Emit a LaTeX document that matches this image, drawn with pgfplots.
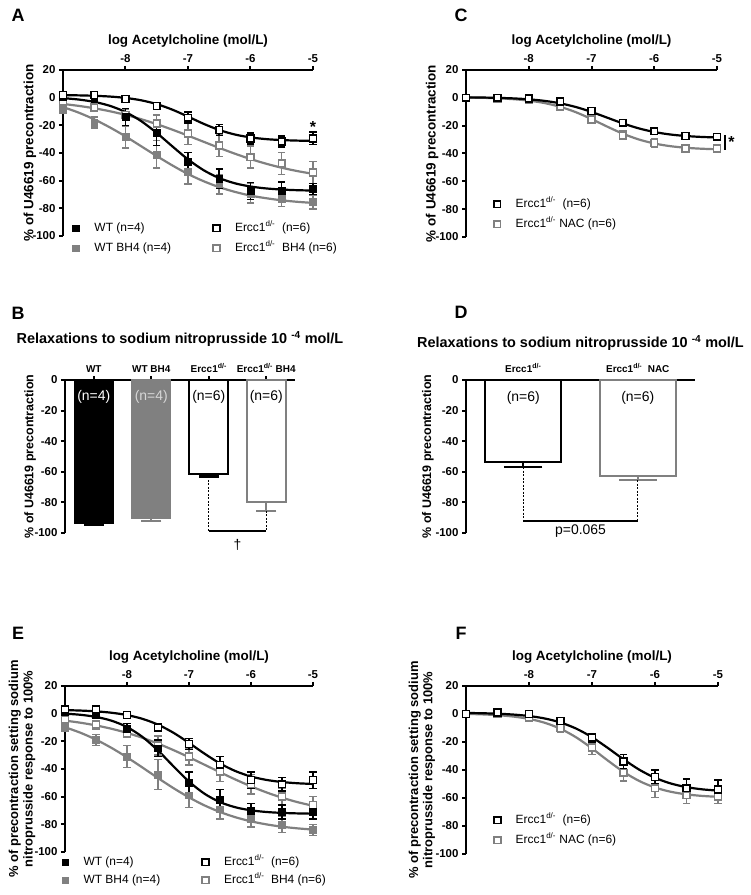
\documentclass[border=0pt]{standalone}
\usepackage{fontspec}
\setmainfont{Liberation Sans}
\usepackage{pgfplots}
\usepackage{pgfplotstable}
\pgfplotsset{compat=1.18}
\definecolor{pg}{RGB}{128,128,128}
\definecolor{lg}{RGB}{215,215,215}

% fitted curves, x = -9 ... -5 step 0.25
\pgfplotstableread{
x wt bh ko kobh
-9 -0.34 -6.8 1.82 -4.56
-8.75 -1.35 -10.8 1.65 -5.94
-8.5 -3.07 -15.7 1.35 -7.68
-8.25 -5.91 -21.5 0.80 -9.83
-8 -10.39 -28.0 -0.19 -12.45
-7.75 -16.94 -35.1 -1.90 -15.56
-7.5 -25.5 -42.2 -4.66 -19.15
-7.25 -35.22 -49.0 -8.68 -23.14
-7 -44.63 -55.2 -13.69 -27.45
-6.75 -52.44 -60.4 -18.91 -31.89
-6.5 -58.13 -64.7 -23.38 -36.30
-6.25 -61.9 -68.1 -26.64 -40.50
-6 -64.23 -70.8 -28.73 -44.35
-5.75 -65.62 -72.7 -29.97 -47.75
-5.5 -66.43 -74.2 -30.67 -50.66
-5.25 -66.9 -75.3 -31.05 -53.09
-5 -67.16 -76.1 -31.26 -55.07
}\curveA
\pgfplotstableread{
x wt wte bh bhe ko koe kobh kobhe
-9 0.7 1.5 -8.2 3 1.9 1 -2.4 2
-8.5 -1 2 -18 4 1.9 1 -7 2.5
-8 -14 6 -28.5 8 -1 1 -12.6 4
-7.5 -25.5 9 -41 10 -6 1.5 -18.6 6
-7 -46.5 7 -53.5 9 -14.5 4 -26 8
-6.5 -58.5 7 -62.5 7 -23.4 4 -34.5 8
-6 -67.5 6 -69.2 7 -29.5 4 -43 8
-5.5 -67 6 -72.8 6 -31.8 4 -47.5 8
-5 -66 4 -75.5 5 -29.5 4.5 -54 8
}\ptA
\pgfplotstableread{
x ko nac
-9 0.33 0.23
-8.75 0.21 0.03
-8.5 -0.02 -0.33
-8.25 -0.40 -0.96
-8 -1.07 -2.01
-7.75 -2.18 -3.75
-7.5 -3.95 -6.45
-7.25 -6.59 -10.32
-7 -10.12 -15.25
-6.75 -14.25 -20.68
-6.5 -18.38 -25.77
-6.25 -21.91 -29.87
-6 -24.55 -32.80
-5.75 -26.32 -34.70
-5.5 -27.43 -35.87
-5.25 -28.10 -36.57
-5 -28.48 -36.97
}\curveC
\pgfplotstableread{
x ko koe nac nace
-9 0 1 0 1
-8.5 0 1 -0.5 1
-8 -0.5 1 -1.5 1
-7.5 -2.5 1 -6.5 1.5
-7 -9.5 2 -15.5 2
-6.5 -18 2.5 -27 3
-6 -24 2.5 -32.5 3
-5.5 -27.5 2 -36.5 2.5
-5 -28 2.5 -36.5 2.5
}\ptC
\pgfplotstableread{
x wt bh ko kobh
-9 0.02 -9.80 2.57 -5.02
-8.75 -0.82 -13.80 2.24 -6.55
-8.5 -2.36 -18.77 1.66 -8.50
-8.25 -5.08 -24.74 0.67 -10.92
-8 -9.67 -31.56 -1.01 -13.90
-7.75 -16.82 -38.96 -3.75 -17.47
-7.5 -26.64 -46.54 -7.94 -21.64
-7.25 -38.07 -53.85 -13.83 -26.36
-7 -49.08 -60.52 -21.13 -31.50
-6.75 -57.88 -66.31 -28.91 -36.91
-6.5 -63.94 -71.08 -35.98 -42.35
-6.25 -67.69 -74.89 -41.53 -47.63
-6 -69.87 -77.83 -45.41 -52.53
-5.75 -71.08 -80.05 -47.90 -56.93
-5.5 -71.74 -81.71 -49.41 -60.74
-5.25 -72.10 -82.91 -50.31 -63.95
-5 -72.29 -83.79 -50.82 -66.59
}\curveE
\pgfplotstableread{
x wt wte bh bhe ko koe kobh kobhe
-9 1.5 1.5 -10 3 3 1 -4 3
-8.5 -0.5 2 -19 4 3 1 -8 3
-8 -11 4 -31 8 -1 1 -14 3
-7.5 -25 6 -44 11 -10 3 -23 7
-7 -50 8 -59 9 -22 4 -31 6
-6.5 -62 7 -69 7 -37 6 -42 7
-6 -70 5 -76 6 -48 6 -51 7
-5.5 -71 5 -80 6 -51 5 -60 6
-5 -71 5 -84 4 -48 6 -66 6
}\ptE
\pgfplotstableread{
x ko nac
-9 0.74 0.08
-8.75 0.55 -0.25
-8.5 0.21 -0.83
-8.25 -0.40 -1.82
-8 -1.44 -3.50
-7.75 -3.20 -6.26
-7.5 -6.06 -10.57
-7.25 -10.45 -16.72
-7 -16.60 -24.58
-6.75 -24.23 -33.22
-6.5 -32.37 -41.32
-6.25 -39.77 -47.85
-6 -45.57 -52.51
-5.75 -49.63 -55.55
-5.5 -52.23 -57.41
-5.25 -53.82 -58.52
-5 -54.75 -59.16
}\curveF
\pgfplotstableread{
x ko koe nac nace
-9 0 1 0 1
-8.5 1 1 0 1
-8 0 1 -2.5 1
-7.5 -5 1.5 -10 3
-7 -17 3 -24 5
-6.5 -34 5 -42 6
-6 -45 5 -53 6.5
-5.5 -53 6.5 -58 6
-5 -54 7 -59 5
}\ptF

\pgfplotsset{
  base/.style={scale only axis, clip=false,
    axis x line*=top, axis y line*=left,
    tick align=outside, major tick length=4bp,
    axis line style={line width=2bp},
    every tick/.style={black, line width=2bp},
    tick label style={font=\bfseries\fontsize{11.5}{13}\selectfont},
    label style={font=\bfseries\fontsize{13.5}{15}\selectfont},
    legend cell align=left,
    legend image code/.code={\draw[##1] plot coordinates {(0bp,0bp)};},
    legend style={draw=none, fill=none, inner sep=0pt, anchor=north west,
      font=\fontsize{12}{14}\selectfont, row sep=6bp,
      nodes={inner sep=1bp, text height=9bp, text depth=3bp},
      /tikz/every odd column/.append style={column sep=14bp},
      /tikz/every even column/.append style={column sep=41bp}},
  },
  crc/.style={base, xmin=-9, xmax=-5, ymin=-100, ymax=20,
    xtick={-8,-7,-6,-5}, xticklabels={-8,-7,-6,-5},
    ytick={-100,-80,...,20}, yticklabels={-100,-80,-60,-40,-20,0,20},
    xlabel={log Acetylcholine (mol/L)},
    xlabel style={at={(axis description cs:0.5,1)}, anchor=center, yshift=29bp}},
  errb/.style={error bars/y dir=both, error bars/y explicit,
    error bars/error bar style={line width=1.5bp},
    error bars/error mark options={rotate=90, mark size=3.7bp, line width=1.5bp}},
  sBF/.style={only marks, mark=square*, mark size=3.4bp, black, errb},
  sGF/.style={only marks, mark=square*, mark size=3.4bp, pg, errb},
  sBO/.style={only marks, mark=square*, mark size=3.4bp, black, mark options={fill=white, line width=1.6bp}, errb},
  sGO/.style={only marks, mark=square*, mark size=3.4bp, pg, mark options={fill=white, line width=1.6bp}, errb},
  cB/.style={black, line width=2.2bp, smooth, no markers},
  cG/.style={pg, line width=2.2bp, smooth, no markers},
}

\begin{document}
\begin{tikzpicture}
\useasboundingbox (0,0) rectangle (751bp,895bp);

% ---------------- A ----------------
\begin{axis}[crc, at={(63bp,825bp)}, anchor=north west, width=250bp, height=166bp,
  ylabel={\% of U46619 precontraction},
  ylabel style={at={(axis description cs:-0.132,0.5)}, anchor=center},
  legend columns=2, transpose legend,
  legend style={at={(0.038,0.09)}}]
\addplot[cG, forget plot] table[x=x,y=bh]{\curveA};
\addplot[cG, forget plot] table[x=x,y=kobh]{\curveA};
\addplot[cB, forget plot] table[x=x,y=wt]{\curveA};
\addplot[cB, forget plot] table[x=x,y=ko]{\curveA};
\addplot[sGF, forget plot] table[x=x,y=bh,y error=bhe]{\ptA};
\addplot[sGO, forget plot] table[x=x,y=kobh,y error=kobhe]{\ptA};
\addplot[sBF, forget plot] table[x=x,y=wt,y error=wte]{\ptA};
\addplot[sBO, forget plot] table[x=x,y=ko,y error=koe]{\ptA};
\node[font=\bfseries\fontsize{16}{16}\selectfont] at (axis cs:-5,-21.5) {*};
\addlegendimage{mark=square*, mark size=3.4bp, black}
\addlegendentry{WT (n=4)}
\addlegendimage{mark=square*, mark size=3.4bp, pg}
\addlegendentry{WT BH4 (n=4)}
\addlegendimage{mark=square*, mark size=3.4bp, black, mark options={fill=white, line width=1.6bp}}
\addlegendentry{Ercc1\textsuperscript{d/-}\ \ (n=6)}
\addlegendimage{mark=square*, mark size=3.4bp, pg, mark options={fill=white, line width=1.6bp}}
\addlegendentry{Ercc1\textsuperscript{d/-}\ \ BH4 (n=6)}
\end{axis}

% ---------------- C ----------------
\begin{axis}[crc, at={(466bp,825bp)}, anchor=north west, width=251bp, height=167bp,
  ylabel={\% of U46619 precontraction},
  ylabel style={at={(axis description cs:-0.135,0.5)}, anchor=center},
  legend style={at={(0.11,0.24)}}]
\addplot[cG, forget plot] table[x=x,y=nac]{\curveC};
\addplot[cB, forget plot] table[x=x,y=ko]{\curveC};
\addplot[sGO, forget plot] table[x=x,y=nac,y error=nace]{\ptC};
\addplot[sBO, forget plot] table[x=x,y=ko,y error=koe]{\ptC};
\draw[line width=2bp] (axis cs:-4.87,-27) -- (axis cs:-4.87,-37.5);
\node[font=\bfseries\fontsize{16}{16}\selectfont] at (axis cs:-4.77,-32) {*};
\addlegendimage{mark=square*, mark size=3.4bp, black, mark options={fill=white, line width=1.6bp}}
\addlegendentry{Ercc1\textsuperscript{d/-}\ \ (n=6)}
\addlegendimage{mark=square*, mark size=3.4bp, pg, mark options={fill=white, line width=1.6bp}}
\addlegendentry{Ercc1\textsuperscript{d/-} NAC (n=6)}
\end{axis}

% ---------------- B ----------------
\begin{axis}[base, at={(65bp,515bp)}, anchor=north west, width=230bp, height=153bp,
  xmin=-0.5, xmax=3.5, ymin=-100, ymax=0,
  xtick={0,1,2,3},
  xticklabels={WT, WT BH4, Ercc1\textsuperscript{d/-}, Ercc1\textsuperscript{d/-} BH4},
  xticklabel style={font=\bfseries\fontsize{10}{12}\selectfont},
  ytick={-100,-80,...,0}, yticklabels={-100,-80,-60,-40,-20,0},
  ylabel={\% of U46619 precontraction},
  ylabel style={at={(axis description cs:-0.152,0.5)}, anchor=center, font=\bfseries\fontsize{12.5}{14}\selectfont},
  title={Relaxations to sodium nitroprusside 10 \textsuperscript{-4} mol/L},
  title style={at={(0.5,1)}, anchor=center, yshift=35bp, font=\bfseries\fontsize{14.5}{16}\selectfont}]
\addplot[ybar, bar width=39bp, fill=black, draw=black, line width=1bp,
  error bars/y dir=minus, error bars/y explicit,
  error bars/error bar style={line width=2bp, black},
  error bars/error mark options={rotate=90, mark size=10bp, line width=2bp, black}]
  coordinates {(0,-94) -= (0,1)};
\addplot[ybar, bar width=39bp, fill=pg, draw=pg, line width=1bp,
  error bars/y dir=minus, error bars/y explicit,
  error bars/error bar style={line width=2bp, pg},
  error bars/error mark options={rotate=90, mark size=10bp, line width=2bp, pg}]
  coordinates {(1,-90.5) -= (0,1.5)};
\addplot[ybar, bar width=39bp, fill=white, draw=black, line width=2.2bp,
  error bars/y dir=minus, error bars/y explicit,
  error bars/error bar style={line width=2bp, black},
  error bars/error mark options={rotate=90, mark size=10bp, line width=2.5bp, black}]
  coordinates {(2,-61.5) -= (0,1.5)};
\addplot[ybar, bar width=39bp, fill=white, draw=pg, line width=2.2bp,
  error bars/y dir=minus, error bars/y explicit,
  error bars/error bar style={line width=2bp, pg},
  error bars/error mark options={rotate=90, mark size=10bp, line width=2bp, pg}]
  coordinates {(3,-80) -= (0,5.5)};
\node[white, font=\fontsize{14}{16}\selectfont] at (axis cs:0,-11) {(n=4)};
\node[lg, font=\fontsize{14}{16}\selectfont] at (axis cs:1,-11) {(n=4)};
\node[black, font=\fontsize{14}{16}\selectfont] at (axis cs:2,-11) {(n=6)};
\node[black, font=\fontsize{14}{16}\selectfont] at (axis cs:3,-11) {(n=6)};
\draw[line width=0.8bp, dash pattern=on 2bp off 1.5bp] (axis cs:2,-63) -- (axis cs:2,-98.5);
\draw[line width=0.8bp, dash pattern=on 2bp off 1.5bp] (axis cs:3,-85.5) -- (axis cs:3,-98.5);
\draw[line width=2bp] (axis cs:2,-98.5) -- (axis cs:3,-98.5);
\node[font=\fontsize{14}{16}\selectfont] at (axis cs:2.5,-107.5) {†};
\end{axis}

% ---------------- D ----------------
\begin{axis}[base, at={(466bp,515bp)}, anchor=north west, width=229bp, height=153bp,
  xmin=-0.5, xmax=1.5, ymin=-100, ymax=0,
  xtick={0,1},
  xticklabels={Ercc1\textsuperscript{d/-}, Ercc1\textsuperscript{d/-}\ \ NAC},
  xticklabel style={font=\bfseries\fontsize{10}{12}\selectfont},
  xtick style={draw=none},
  ytick={-100,-80,...,0}, yticklabels={-100,-80,-60,-40,-20,0},
  ylabel={\% of U46619 precontraction},
  ylabel style={at={(axis description cs:-0.166,0.5)}, anchor=center, font=\bfseries\fontsize{12.5}{14}\selectfont},
  title={Relaxations to sodium nitroprusside 10 \textsuperscript{-4} mol/L},
  title style={at={(0.5,1)}, anchor=center, yshift=31bp, font=\bfseries\fontsize{14.5}{16}\selectfont}]
\addplot[ybar, bar width=76bp, fill=white, draw=black, line width=2.2bp,
  error bars/y dir=minus, error bars/y explicit,
  error bars/error bar style={line width=2bp, black},
  error bars/error mark options={rotate=90, mark size=19bp, line width=2bp, black}]
  coordinates {(0,-53.8) -= (0,3.2)};
\addplot[ybar, bar width=76bp, fill=white, draw=pg, line width=2.2bp,
  error bars/y dir=minus, error bars/y explicit,
  error bars/error bar style={line width=2bp, pg},
  error bars/error mark options={rotate=90, mark size=19bp, line width=2bp, pg}]
  coordinates {(1,-63) -= (0,2.5)};
\node[black, font=\fontsize{14}{16}\selectfont] at (axis cs:0,-12) {(n=6)};
\node[black, font=\fontsize{14}{16}\selectfont] at (axis cs:1,-12) {(n=6)};
\draw[line width=0.8bp, dash pattern=on 2bp off 1.5bp] (axis cs:0,-57) -- (axis cs:0,-92);
\draw[line width=0.8bp, dash pattern=on 2bp off 1.5bp] (axis cs:1,-65.5) -- (axis cs:1,-92);
\draw[line width=2bp] (axis cs:0,-92) -- (axis cs:1,-92);
\node[font=\fontsize{14}{16}\selectfont] at (axis cs:0.5,-98.7) {p=0.065};
\end{axis}

% ---------------- E ----------------
\begin{axis}[crc, at={(65bp,209bp)}, anchor=north west, width=248bp, height=166bp,
  ylabel={\% of precontraction setting sodium\\nitroprusside response to 100\%},
  ylabel style={at={(axis description cs:-0.173,0.5)}, anchor=center, align=center, font=\bfseries\fontsize{13}{14.5}\selectfont},
  legend columns=2, transpose legend,
  legend style={at={(-0.014,-0.018)}, row sep=4bp}]
\addplot[cG, forget plot] table[x=x,y=bh]{\curveE};
\addplot[cG, forget plot] table[x=x,y=kobh]{\curveE};
\addplot[cB, forget plot] table[x=x,y=wt]{\curveE};
\addplot[cB, forget plot] table[x=x,y=ko]{\curveE};
\addplot[sGF, forget plot] table[x=x,y=bh,y error=bhe]{\ptE};
\addplot[sGO, forget plot] table[x=x,y=kobh,y error=kobhe]{\ptE};
\addplot[sBF, forget plot] table[x=x,y=wt,y error=wte]{\ptE};
\addplot[sBO, forget plot] table[x=x,y=ko,y error=koe]{\ptE};
\addlegendimage{mark=square*, mark size=3.4bp, black}
\addlegendentry{WT (n=4)}
\addlegendimage{mark=square*, mark size=3.4bp, pg}
\addlegendentry{WT BH4 (n=4)}
\addlegendimage{mark=square*, mark size=3.4bp, black, mark options={fill=white, line width=1.6bp}}
\addlegendentry{Ercc1\textsuperscript{d/-}\ \ (n=6)}
\addlegendimage{mark=square*, mark size=3.4bp, pg, mark options={fill=white, line width=1.6bp}}
\addlegendentry{Ercc1\textsuperscript{d/-}\ \ BH4 (n=6)}
\end{axis}

% ---------------- F ----------------
\begin{axis}[crc, at={(466bp,209bp)}, anchor=north west, width=252bp, height=168bp,
  ylabel={\% of precontraction setting sodium\\nitroprusside response to 100\%},
  ylabel style={at={(axis description cs:-0.175,0.5)}, anchor=center, align=center, font=\bfseries\fontsize{13}{14.5}\selectfont},
  legend style={at={(0.11,0.244)}}]
\addplot[cG, forget plot] table[x=x,y=nac]{\curveF};
\addplot[cB, forget plot] table[x=x,y=ko]{\curveF};
\addplot[sGO, forget plot] table[x=x,y=nac,y error=nace]{\ptF};
\addplot[sBO, forget plot] table[x=x,y=ko,y error=koe]{\ptF};
\addlegendimage{mark=square*, mark size=3.4bp, black, mark options={fill=white, line width=1.6bp}}
\addlegendentry{Ercc1\textsuperscript{d/-}\ \ (n=6)}
\addlegendimage{mark=square*, mark size=3.4bp, pg, mark options={fill=white, line width=1.6bp}}
\addlegendentry{Ercc1\textsuperscript{d/-} NAC (n=6)}
\end{axis}

\node[font=\bfseries\fontsize{18}{18}\selectfont] at (18bp,880bp) {A};
\node[font=\bfseries\fontsize{18}{18}\selectfont] at (461bp,880bp) {C};
\node[font=\bfseries\fontsize{18}{18}\selectfont] at (18bp,582bp) {B};
\node[font=\bfseries\fontsize{18}{18}\selectfont] at (461bp,583bp) {D};
\node[font=\bfseries\fontsize{18}{18}\selectfont] at (18bp,262bp) {E};
\node[font=\bfseries\fontsize{18}{18}\selectfont] at (461bp,262bp) {F};
\end{tikzpicture}
\end{document}
